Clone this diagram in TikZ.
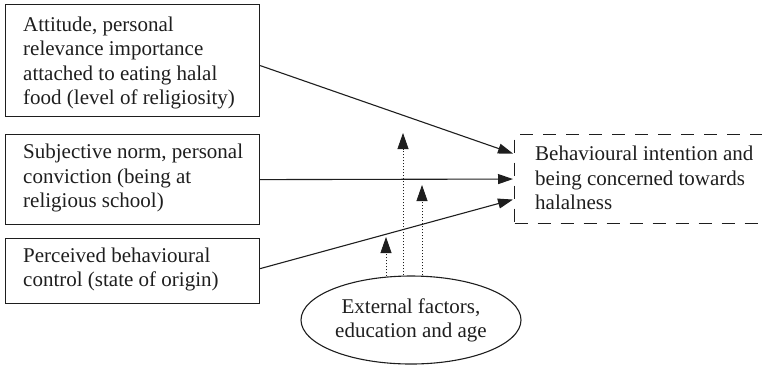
\documentclass[tikz,border=0pt]{standalone}
\usepackage{fontspec}
\setmainfont{Liberation Serif}
\usetikzlibrary{arrows.meta,shapes.geometric}
\definecolor{ink}{HTML}{1E1E1E}
\tikzset{
  boxshape/.style={draw=ink,line width=1.2pt,rectangle,inner sep=0pt,anchor=north west,minimum width=254pt},
  txt/.style={align=left,inner sep=0pt,anchor=west,text=ink,font=\fontsize{21}{24.5}\selectfont},
  conn/.style={draw=ink,line width=1.1pt,-{Triangle[length=15pt,width=10pt]}},
  dotconn/.style={draw=ink,line width=0.8pt,dash pattern=on 1pt off 2pt,-{Triangle[length=16pt,width=11pt]}},
}
\begin{document}
\begin{tikzpicture}[x=1pt,y=-1pt]
\useasboundingbox (0,0) rectangle (762,365);
\clip (0,0) rectangle (762,365);
% boxes
\node[boxshape,minimum height=112pt] (b1) at (5,4) {};
\node[boxshape,minimum height=90pt] (b2) at (5,134) {};
\node[boxshape,minimum height=65pt] (b3) at (5,238) {};
\node[draw=ink,line width=1.1pt,dash pattern=on 13pt off 10pt,rectangle,inner sep=0pt,anchor=north west,minimum width=275pt,minimum height=89pt] (d) at (514,134) {};
% texts
\node[txt] (t1) at (23,63) {Attitude, personal\\relevance importance\\attached to eating halal\\food (level of religiosity)};
\node[txt] (t2) at (23,178) {Subjective norm, personal\\conviction (being at\\religious school)};
\node[txt] (t3) at (23,269.5) {Perceived behavioural\\control (state of origin)};
\node[txt] (td) at (535,178) {Behavioural intention and\\being concerned towards\\halalness};
% ellipse
\node[draw=ink,line width=1.1pt,ellipse,minimum width=220pt,minimum height=88pt,inner sep=0pt,align=center,text=ink,font=\fontsize{21}{24}\selectfont] (e) at (411,320) {External factors,\\education and age};
% main connectors
\draw[conn] ([yshift=-5pt]b1.east) -- ([xshift=-1pt,yshift=25.5pt]d.west);
\draw[conn] (b2.east) -- ([xshift=-1pt]d.west);
\draw[conn] ([yshift=2.5pt]b3.east) -- ([xshift=-1pt,yshift=-20.5pt]d.west);
% dotted connectors
\coordinate (p1) at (386,237);
\coordinate (p2) at (403,133);
\coordinate (p3) at (422,185);
\draw[dotconn] ([xshift=-25pt,yshift=-1pt]e.north) -- (p1);
\draw[dotconn] ([xshift=-8pt]e.north) -- (p2);
\draw[dotconn] ([xshift=11pt]e.north) -- (p3);
\end{tikzpicture}
\end{document}
